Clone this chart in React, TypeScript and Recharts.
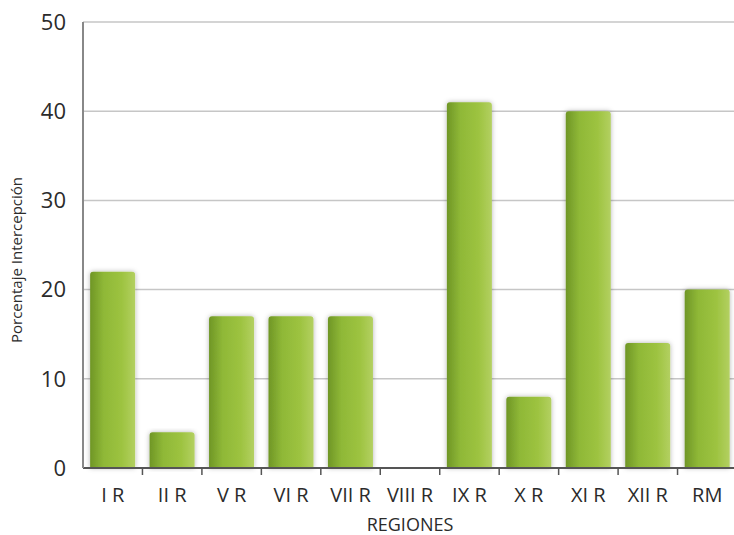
import { FC } from "react";
import {
  BarChart,
  Bar,
  XAxis,
  YAxis,
  CartesianGrid,
} from "recharts";

// Regions on the x axis
const regions = ["I R", "II R", "V R", "VI R", "VII R", "VIII R", "IX R", "X R", "XI R", "XII R", "RM"];

// Percentage of interception per region
const intercepcion = [22, 4, 17, 17, 17, 0, 41, 8, 40, 14, 20];

const yTicks = [0, 10, 20, 30, 40, 50];

const data = regions.map((region, i) => ({ region, value: intercepcion[i] }));

const CHART_W = 740;
const CHART_H = 535;
const MARGIN = { top: 22, right: 3, left: 0, bottom: 0 };
const Y_AXIS_W = 83;
const X_AXIS_H = 67;
const FONT = "'Open Sans', 'Noto Sans', sans-serif";

const plotW = CHART_W - MARGIN.left - MARGIN.right - Y_AXIS_W;
const bandW = plotW / regions.length;

// tick label plus the small upward tick mark at the right edge of each band
const RegionTick: FC<any> = ({ x, y, payload, index }) => {
  const last = index === regions.length - 1;
  return (
    <g>
      {!last && (
        <line
          x1={x + bandW / 2}
          x2={x + bandW / 2}
          y1={y - 8}
          y2={y - 1}
          stroke="#555"
          strokeWidth={1.5}
        />
      )}
      <text
        x={x}
        y={y + 26}
        textAnchor="middle"
        fill="#2b2b2b"
        fontSize={20}
        fontFamily={FONT}
      >
        {payload.value}
      </text>
    </g>
  );
};

const App: FC = () => {
  return (
    <div style={{ position: "absolute", left: 0, top: 0, width: 734, height: 535, overflow: "hidden", background: "#fff" }}>
      <BarChart
        width={CHART_W}
        height={CHART_H}
        data={data}
        margin={MARGIN}
        barCategoryGap="12%"
      >
        <defs>
          <linearGradient id="barGreen" x1="0" y1="0" x2="1" y2="0">
            <stop offset="0%" stopColor="#6f9626" />
            <stop offset="30%" stopColor="#8fb837" />
            <stop offset="70%" stopColor="#9dc340" />
            <stop offset="100%" stopColor="#b3d061" />
          </linearGradient>
          <filter id="barShadow" x="-20%" y="-10%" width="140%" height="120%">
            <feDropShadow dx="0" dy="0" stdDeviation="2.5" floodColor="#000" floodOpacity="0.3" />
          </filter>
        </defs>
        <CartesianGrid vertical={false} stroke="#c6c6c6" strokeWidth={1.5} />
        <XAxis
          dataKey="region"
          height={X_AXIS_H}
          axisLine={{ stroke: "#555", strokeWidth: 2 }}
          tickLine={false}
          tick={<RegionTick />}
          interval={0}
          label={{
            value: "REGIONES",
            position: "insideBottom",
            offset: 4,
            fill: "#2b2b2b",
            fontSize: 18,
            fontFamily: FONT,
          }}
        />
        <YAxis
          width={Y_AXIS_W}
          domain={[0, 50]}
          ticks={yTicks}
          axisLine={{ stroke: "#888", strokeWidth: 2 }}
          tickLine={false}
          tickMargin={11}
          tick={{ fill: "#2b2b2b", fontSize: 22, fontFamily: FONT }}
          label={{
            value: "Porcentaje Intercepción",
            angle: -90,
            position: "insideLeft",
            offset: 17,
            dy: 15,
            style: { textAnchor: "middle" },
            fill: "#2b2b2b",
            fontSize: 15,
            fontFamily: FONT,
          }}
        />
        <Bar
          dataKey="value"
          fill="url(#barGreen)"
          radius={[3, 3, 0, 0]}
          filter="url(#barShadow)"
          isAnimationActive={false}
        />
      </BarChart>
    </div>
  );
};

export default App;
